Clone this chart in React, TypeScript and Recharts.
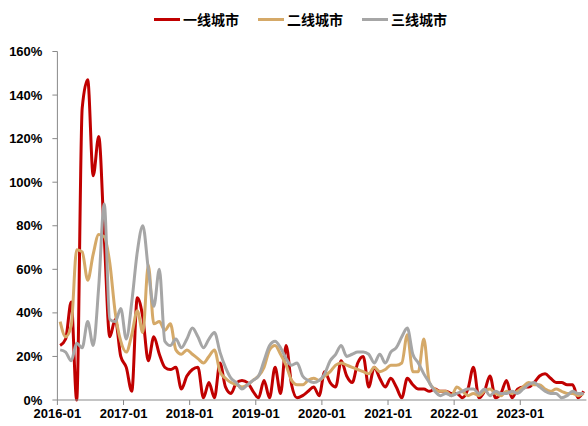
import { Legend, Line, LineChart, XAxis, YAxis } from "recharts";

// Monthly categories, 2016-01 .. 2023-12
const START_YEAR = 2016;
const MONTH_COUNT = 96;
const MONTHS = Array.from(
  { length: MONTH_COUNT },
  (_, i) => `${START_YEAR + Math.floor(i / 12)}-${String((i % 12) + 1).padStart(2, "0")}`
);

// values in %
const TIER1 = [
  25, 28, 45, 0, 134, 147, 103, 121, 75, 29,
  37, 20, 15, 4, 47, 38, 18, 29, 21, 15,
  14, 15, 5, 11, 14, 15, 1, 8, 1, 17,
  6, 3, 8, 9, 8, 4, 1, 9, 1, 15,
  3, 25, 7, 1, 2, 4, 6, 2, 13, 8,
  6, 18, 11, 8, 17, 20, 6, 15, 10, 6,
  10, 6, 1, 10, 7, 5, 5, 4, 5, 4,
  4, 3, 3, 1, 5, 15, 1, 4, 11, 1,
  3, 9, 1, 5, 6, 6, 8, 11, 12, 10,
  8, 8, 7, 7, 1, 4,
];

const TIER2 = [
  36, 29, 34, 69, 68, 55, 67, 76, 75, 63,
  40, 27, 22, 30, 41, 31, 62, 35, 36, 32,
  35, 23, 21, 23, 21, 19, 17, 20, 23, 13,
  10, 8, 7, 6, 7, 9, 11, 15, 23, 25,
  21, 16, 9, 7, 7, 9, 10, 9, 11, 13,
  16, 17, 16, 15, 14, 13, 12, 15, 13, 14,
  16, 16, 17, 30, 13, 13, 28, 8, 5, 4,
  4, 2, 6, 4, 2, 3, 2, 4, 5, 3,
  2, 4, 3, 4, 6, 8, 7, 7, 5, 4,
  5, 4, 3, 3, 2, 3,
];

const TIER3 = [
  23, 22, 18, 26, 24, 36, 25, 52, 90, 37,
  36, 42, 28, 45, 68, 80, 60, 43, 60, 27,
  25, 28, 24, 28, 33, 29, 24, 28, 31, 22,
  15, 10, 8, 5, 7, 9, 11, 18, 25, 27,
  24, 19, 16, 17, 11, 9, 8, 9, 12, 18,
  21, 25, 20, 21, 22, 22, 21, 17, 21, 17,
  22, 24, 29, 33, 21, 17, 12, 8, 4, 2,
  3, 2, 3, 4, 5, 5, 3, 5, 2, 4,
  3, 3, 4, 3, 5, 7, 8, 6, 4, 3,
  3, 1, 2, 4, 3, 3,
];

const SERIES = [
  { key: "tier1", name: "一线城市", color: "#C00000" },
  { key: "tier2", name: "二线城市", color: "#D5A968" },
  { key: "tier3", name: "三线城市", color: "#A6A6A6" },
];

const Y_TICKS = [0, 20, 40, 60, 80, 100, 120, 140, 160];
const X_TICKS = MONTHS.map((m, i) => (m.endsWith("-01") ? i : -1)).filter((i) => i >= 0);

// points sit in the middle of each month slot (Excel date axis style)
const rows = MONTHS.map((month, i) => ({
  month,
  pos: i + 0.5,
  tier1: TIER1[i],
  tier2: TIER2[i],
  tier3: TIER3[i],
}));

const AXIS_COLOR = "#898989";
const tickStyle = {
  fill: "#000",
  fontSize: 13,
  fontWeight: 700,
  fontFamily: "Liberation Sans, Arial, sans-serif",
};

// legend drawn in series order (recharts sorts payload by default)
function LegendContent() {
  return (
    <div
      style={{
        display: "flex",
        justifyContent: "center",
        paddingLeft: 32,
        fontFamily: "'Noto Sans CJK SC', sans-serif",
        fontWeight: 700,
        fontSize: 14,
        color: "#000",
      }}
    >
      {SERIES.map((s) => (
        <div key={s.key} style={{ display: "flex", alignItems: "center", marginRight: 19 }}>
          <span style={{ width: 26, height: 3, background: s.color, marginRight: 3, display: "inline-block" }} />
          <span>{s.name}</span>
        </div>
      ))}
    </div>
  );
}

export default function App() {
  return (
    <div style={{ position: "absolute", left: 0, top: 0, width: 588, height: 426, background: "#fff" }}>
      <LineChart
        width={588}
        height={426}
        data={rows}
        margin={{ top: 51.5, right: 1.6, bottom: 0, left: 0 }}
      >
        <XAxis
          type="number"
          dataKey="pos"
          domain={[0, MONTH_COUNT]}
          ticks={X_TICKS}
          interval={0}
          tickFormatter={(v: number) => MONTHS[v]}
          height={26}
          stroke={AXIS_COLOR}
          tickSize={5}
          tickMargin={4}
          tick={tickStyle}
        />
        <YAxis
          domain={[0, 160]}
          ticks={Y_TICKS}
          interval={0}
          tickFormatter={(v: number) => `${v}%`}
          width={57.4}
          stroke={AXIS_COLOR}
          tickSize={5}
          tickMargin={10}
          tick={tickStyle}
        />
        <Legend
          layout="horizontal"
          verticalAlign="middle"
          align="center"
          wrapperStyle={{ top: 9, left: 0, width: 588 }}
          content={<LegendContent />}
        />
        {SERIES.map((s) => (
          <Line
            key={s.key}
            type="monotone"
            dataKey={s.key}
            name={s.name}
            stroke={s.color}
            strokeWidth={3}
            dot={false}
            activeDot={false}
            isAnimationActive={false}
          />
        ))}
      </LineChart>
    </div>
  );
}
